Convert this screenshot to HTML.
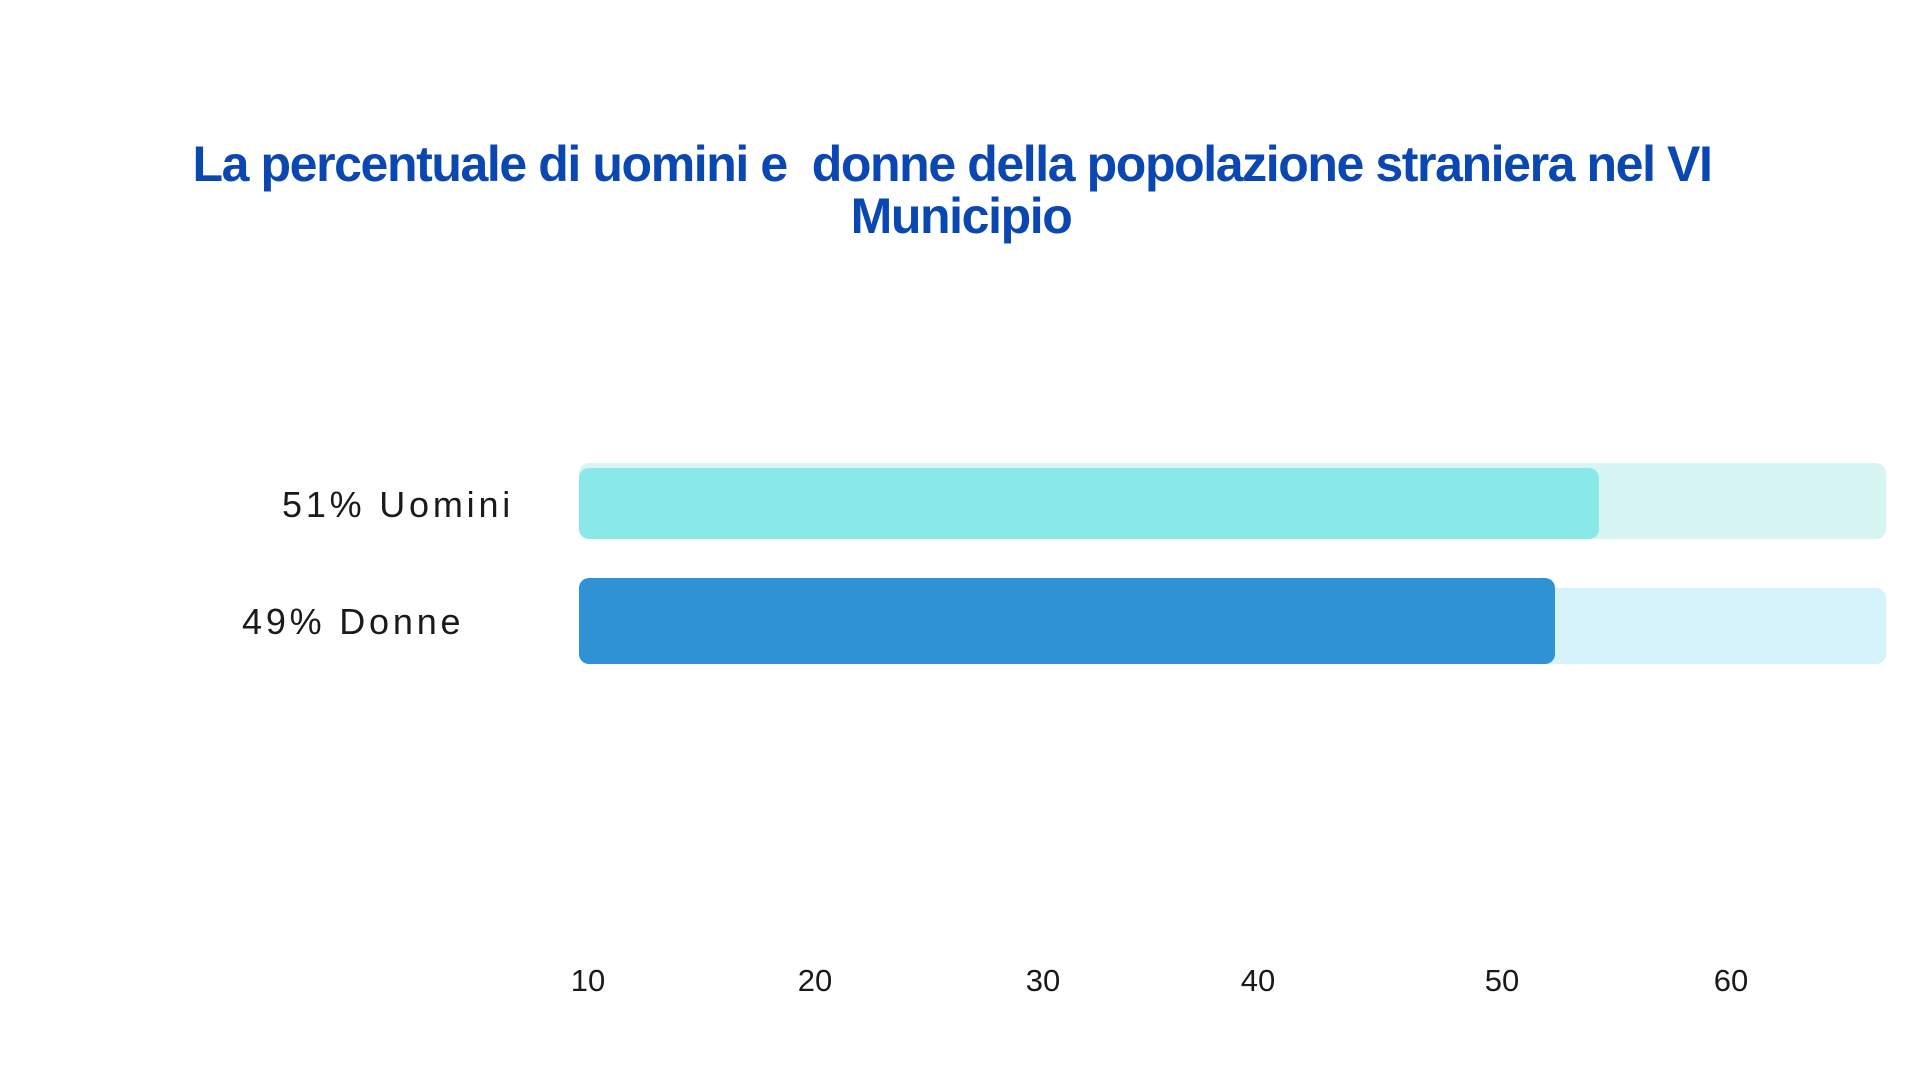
<!DOCTYPE html>
<html><head><meta charset="utf-8"><style>
html,body{margin:0;padding:0;background:#fff;}
body{width:1920px;height:1080px;position:relative;overflow:hidden;font-family:"Liberation Sans",sans-serif;}
.t{position:absolute;left:-8px;width:1920px;text-align:center;color:#0A47B0;font-weight:bold;font-size:50px;letter-spacing:-1.4px;line-height:52px;}
.r{position:absolute;border-radius:10px;}
.lab{position:absolute;color:#1a1a1a;font-size:36px;letter-spacing:3.8px;line-height:40px;white-space:nowrap;}
.tk{position:absolute;top:964px;width:80px;margin-left:-40px;text-align:center;font-size:31px;color:#1a1a1a;line-height:34px;}
</style></head><body>
<div class="t" style="top:138px">La percentuale di uomini e&nbsp; donne della popolazione straniera nel VI</div>
<div class="t" style="top:190px;left:1px">Municipio</div>

<div class="r" style="left:579px;top:463px;width:1307px;height:76px;background:#D7F5F3"></div>
<div class="r" style="left:579px;top:468px;width:1020px;height:71px;background:#89E9E8"></div>
<div class="r" style="left:579px;top:588px;width:1307px;height:76px;background:#D6F2FA"></div>
<div class="r" style="left:579px;top:578px;width:976px;height:86px;background:#2E92D5"></div>

<div class="lab" style="left:282px;top:485px">51% Uomini</div>
<div class="lab" style="left:242px;top:602px">49% Donne</div>

<div class="tk" style="left:588px">10</div>
<div class="tk" style="left:815px">20</div>
<div class="tk" style="left:1043px">30</div>
<div class="tk" style="left:1258px">40</div>
<div class="tk" style="left:1502px">50</div>
<div class="tk" style="left:1731px">60</div>
</body></html>
